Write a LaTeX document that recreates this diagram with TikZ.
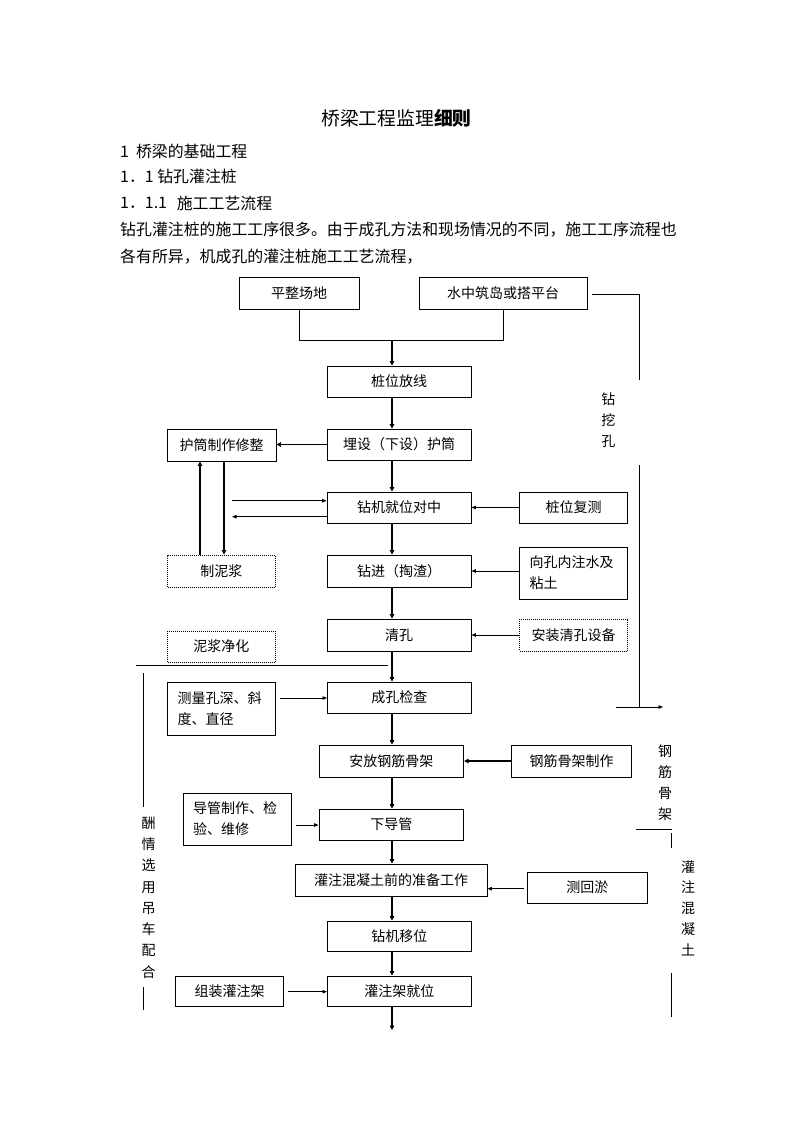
\documentclass[tikz,border=0pt]{standalone}
\usepackage{fontspec}
\setmainfont{Noto Sans CJK SC}
\usetikzlibrary{arrows.meta}
\begin{document}
\begin{tikzpicture}[x=1pt,y=-1pt,
  box/.style={draw, line width=0.9pt, inner sep=0pt, font=\fontsize{14}{17}\selectfont},
  dbox/.style={box, dash pattern=on 1pt off 1pt},
  tbox/.style={draw, line width=0.9pt, inner xsep=10pt, inner ysep=0pt, align=left, font=\fontsize{14}{21}\selectfont},
  main/.style={line width=1.6pt, -{Triangle[length=4.5pt,width=4.5pt]}},
  side/.style={line width=0.9pt, -{Triangle[length=4.5pt,width=3.5pt]}},
  ln/.style={line width=0.9pt},
  vt/.style={inner sep=0pt, align=center, font=\fontsize{14}{20.7}\selectfont},
  para/.style={anchor=west, inner sep=0pt, font=\fontsize{15.9}{18}\selectfont},
  ]
\useasboundingbox (0,0) rectangle (794,1123);
\fill[white] (0,0) rectangle (794,1123);

% header text
\node[inner sep=0pt, font=\fontsize{18.8}{22}\selectfont] (title) at (396.5,118) {桥梁工程监理{\bfseries 细则}};
\node[para] (h1) at (120,151.7) {1\hspace{7pt}桥梁的基础工程};
\node[para] (h2) at (120,176.7) {1．1 钻孔灌注桩};
\node[para] (h3n) at (120,203) {1．1.1};
\node[para] (h3) at (176.6,203) {施工工艺流程};
\node[para] (p1) at (120,230) {钻孔灌注桩的施工工序很多。由于成孔方法和现场情况的不同，施工工序流程也};
\node[para] (p2) at (120,256.7) {各有所异，机成孔的灌注桩施工工艺流程，};

% boxes
\node[box, minimum width=120pt, minimum height=32pt] (pz) at (299,293) {平整场地};
\node[box, minimum width=168pt, minimum height=32pt] (sz) at (503,293) {水中筑岛或搭平台};
\node[box, minimum width=144pt, minimum height=31pt] (fx) at (399,381.5) {桩位放线};
\node[box, minimum width=144pt, minimum height=31pt] (ms) at (399,444.5) {埋设（下设）护筒};
\node[box, minimum width=109pt, minimum height=32pt] (hz) at (221.5,445) {护筒制作修整};
\node[box, minimum width=144pt, minimum height=31pt] (zj) at (399,507.5) {钻机就位对中};
\node[box, minimum width=108pt, minimum height=31pt] (fc) at (573.5,507.5) {桩位复测};
\node[dbox, minimum width=107.5pt, minimum height=32pt] (znj) at (221.25,571) {制泥浆};
\node[box, minimum width=144pt, minimum height=32pt] (zjin) at (399,571) {钻进（掏渣）};
\node[tbox, text width=88pt, minimum height=52pt] (zs) at (573.5,573) {向孔内注水及\\粘土};
\node[box, minimum width=144pt, minimum height=32pt] (qk) at (399,635) {清孔};
\node[dbox, minimum width=108pt, minimum height=32pt] (az) at (573.5,635) {安装清孔设备};
\node[dbox, minimum width=107.5pt, minimum height=31pt] (nj) at (221.25,646.5) {泥浆净化};
\node[box, minimum width=143.5pt, minimum height=31pt] (ck) at (399.25,697.5) {成孔检查};
\node[tbox, text width=87.5pt, minimum height=53pt] (cl) at (221.25,708.5) {测量孔深、斜\\度、直径};
\node[box, minimum width=144.6pt, minimum height=32pt] (af) at (391.3,761) {安放钢筋骨架};
\node[box, minimum width=120.4pt, minimum height=32pt] (gz) at (571.6,761) {钢筋骨架制作};
\node[tbox, text width=88.4pt, minimum height=52pt] (dg) at (237.2,819) {导管制作、检\\验、维修};
\node[box, minimum width=144.6pt, minimum height=31pt] (xdg) at (391.3,824.5) {下导管};
\node[box, minimum width=191.6pt, minimum height=32pt] (gzq) at (391.2,880) {灌注混凝土前的准备工作};
\node[box, minimum width=119.5pt, minimum height=31pt] (hy) at (587.25,887.5) {测回淤};
\node[box, minimum width=144pt, minimum height=30pt] (yw) at (399.45,936) {钻机移位};
\node[box, minimum width=144pt, minimum height=30pt] (jw) at (399.45,991) {灌注架就位};
\node[box, minimum width=108.2pt, minimum height=30pt] (zz) at (229.5,991) {组装灌注架};

% side labels
\node[vt] (lzk) at (608.3,420) {钻\\挖\\孔};
\node[vt] (lgj) at (665,782.7) {钢\\筋\\骨\\架};
\node[vt] (lgz) at (688,908) {灌\\注\\混\\凝\\土};
\node[vt, font=\fontsize{14}{21.3}\selectfont] (ldc) at (148.5,897.5) {酬\\情\\选\\用\\吊\\车\\配\\合};

% coordinates
\coordinate (mx) at (392,0);
\coordinate (jm) at (392,340);
\coordinate (jl) at (299,340);
\coordinate (jr) at (503,340);
\coordinate (ux) at (200,0);
\coordinate (dx) at (224,0);
\coordinate (a1) at (232,500.7);
\coordinate (a2) at (232,516.7);
\coordinate (c1) at (280,698);
\coordinate (c2) at (296.4,825);
\coordinate (c3) at (524,888.7);
\coordinate (c4) at (288,991.7);
\coordinate (fin) at (392,1030);
\coordinate (r1) at (592.3,294.3);
\coordinate (r2) at (639.3,294.3);
\coordinate (r3) at (639.3,380);
\coordinate (r4) at (639.3,465);
\coordinate (r5) at (639.3,708);
\coordinate (r6) at (616,707);
\coordinate (r7) at (663,707);
\coordinate (g1) at (636,829.3);
\coordinate (g2) at (671.7,829.3);
\coordinate (g3) at (671.7,833);
\coordinate (g4) at (671.7,848);
\coordinate (g5) at (671.7,973);
\coordinate (g6) at (671.7,1017);
\coordinate (l1) at (136,665);
\coordinate (l2) at (388,665);
\coordinate (l3) at (143.5,673);
\coordinate (l4) at (143.5,807);
\coordinate (l5) at (143.5,987);
\coordinate (l6) at (143.5,1010);

% join of first two boxes
\draw[ln] (pz.south) -- (jl) -- (jr) -- (sz.south);

% main flow
\draw[main] (jm) -- (fx.north -| mx);
\draw[main] (fx.south -| mx) -- (ms.north -| mx);
\draw[main] (ms.south -| mx) -- (zj.north -| mx);
\draw[main] (zj.south -| mx) -- (zjin.north -| mx);
\draw[main] (zjin.south -| mx) -- (qk.north -| mx);
\draw[main] (qk.south -| mx) -- (ck.north -| mx);
\draw[main] (ck.south -| mx) -- (af.north -| mx);
\draw[main] (af.south -| mx) -- (xdg.north -| mx);
\draw[main] (xdg.south -| mx) -- (gzq.north -| mx);
\draw[main] (gzq.south -| mx) -- (yw.north -| mx);
\draw[main] (yw.south -| mx) -- (jw.north -| mx);
\draw[main] (jw.south -| mx) -- (fin);

% side connectors
\draw[main] (ms.west) -- (ms.west -| hz.east);
\draw[main] (znj.north -| ux) -- (hz.south -| ux);
\draw[main] (hz.south -| dx) -- (znj.north -| dx);
\draw[side] (a1) -- (a1 -| zj.west);
\draw[side] (a2 -| zj.west) -- (a2);
\draw[side] (fc.west) -- (fc.west -| zj.east);
\draw[side] (zjin.east -| zs.west) -- (zjin.east);
\draw[side] (az.west) -- (az.west -| qk.east);
\draw[side] (c1) -- (c1 -| ck.west);
\draw[main] (gz.west) -- (gz.west -| af.east);
\draw[side] (c2) -- (c2 -| xdg.west);
\draw[side] (c3) -- (c3 -| gzq.east);
\draw[side] (c4) -- (c4 -| jw.west);

% brackets and rules
\draw[ln] (r1) -- (r2) -- (r3);
\draw[ln] (r4) -- (r5);
\draw[side] (r6) -- (r7);
\draw[ln] (g1) -- (g2);
\draw[ln] (g3) -- (g4);
\draw[ln] (g5) -- (g6);
\draw[ln] (l1) -- (l2);
\draw[ln] (l3) -- (l4);
\draw[ln] (l5) -- (l6);
\end{tikzpicture}
\end{document}
